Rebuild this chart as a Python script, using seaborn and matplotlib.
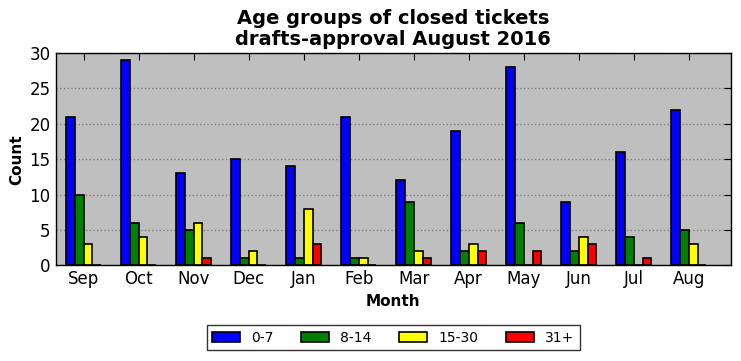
import pandas as pd
import matplotlib.pyplot as plt
import seaborn as sns

# Ticket counts per month and age group
months = ['Sep', 'Oct', 'Nov', 'Dec', 'Jan', 'Feb', 'Mar', 'Apr', 'May', 'Jun', 'Jul', 'Aug']
groups = ['0-7', '8-14', '15-30', '31+']
age_0_7 = [21, 29, 13, 15, 14, 21, 12, 19, 28, 9, 16, 22]
age_8_14 = [10, 6, 5, 1, 1, 1, 9, 2, 6, 2, 4, 5]
age_15_30 = [3, 4, 6, 2, 8, 1, 2, 3, 0, 4, 0, 3]
age_31_plus = [0, 0, 1, 0, 3, 0, 1, 2, 2, 3, 1, 0]
colors = ['#0000ff', '#008000', '#ffff00', '#ff0000']

wide = pd.DataFrame({'Month': months, '0-7': age_0_7, '8-14': age_8_14,
                     '15-30': age_15_30, '31+': age_31_plus})
data = wide.melt(id_vars='Month', var_name='Age', value_name='Count')

sns.set_style('white')
plt.rcParams['font.family'] = ['DejaVu Sans']
plt.rcParams['text.color'] = 'black'
plt.rcParams['axes.labelcolor'] = 'black'
plt.rcParams['xtick.color'] = 'black'
plt.rcParams['ytick.color'] = 'black'

fig, ax = plt.subplots(figsize=(7.41, 3.61), dpi=100)
ax.set_facecolor('#bfbfbf')
sns.barplot(data=data, x='Month', y='Count', hue='Age', order=months, hue_order=groups,
            palette=colors, saturation=1, width=0.64, edgecolor='black', linewidth=1.2, ax=ax)

ax.set_ylim(0, 30)
ax.set_xlim(-0.51, 11.76)
ax.set_yticks(range(0, 31, 5))
ax.yaxis.grid(True, linestyle=':', color='#808080', linewidth=1)
ax.set_axisbelow(True)
ax.tick_params(direction='in', top=True, right=True, length=5, labelsize=12)
for s in ax.spines.values():
    s.set_color('black')
    s.set_linewidth(1)

ax.set_title('Age groups of closed tickets\ndrafts-approval August 2016',
             fontsize=14, fontweight='bold', linespacing=1.1, color='black')
ax.set_xlabel('Month', fontsize=11, fontweight='bold')
ax.set_ylabel('Count', fontsize=11, fontweight='bold')

leg = ax.legend(loc='upper center', bbox_to_anchor=(0.5, -0.25), ncol=4, fontsize=10,
                frameon=True, fancybox=False, edgecolor='black', handlelength=2.0,
                columnspacing=2.0)
leg.get_frame().set_linewidth(1)
for t in leg.get_texts():
    t.set_color('black')

fig.subplots_adjust(left=0.075, right=0.986, top=0.853, bottom=0.265)
fig.savefig('out.png', dpi=100)
